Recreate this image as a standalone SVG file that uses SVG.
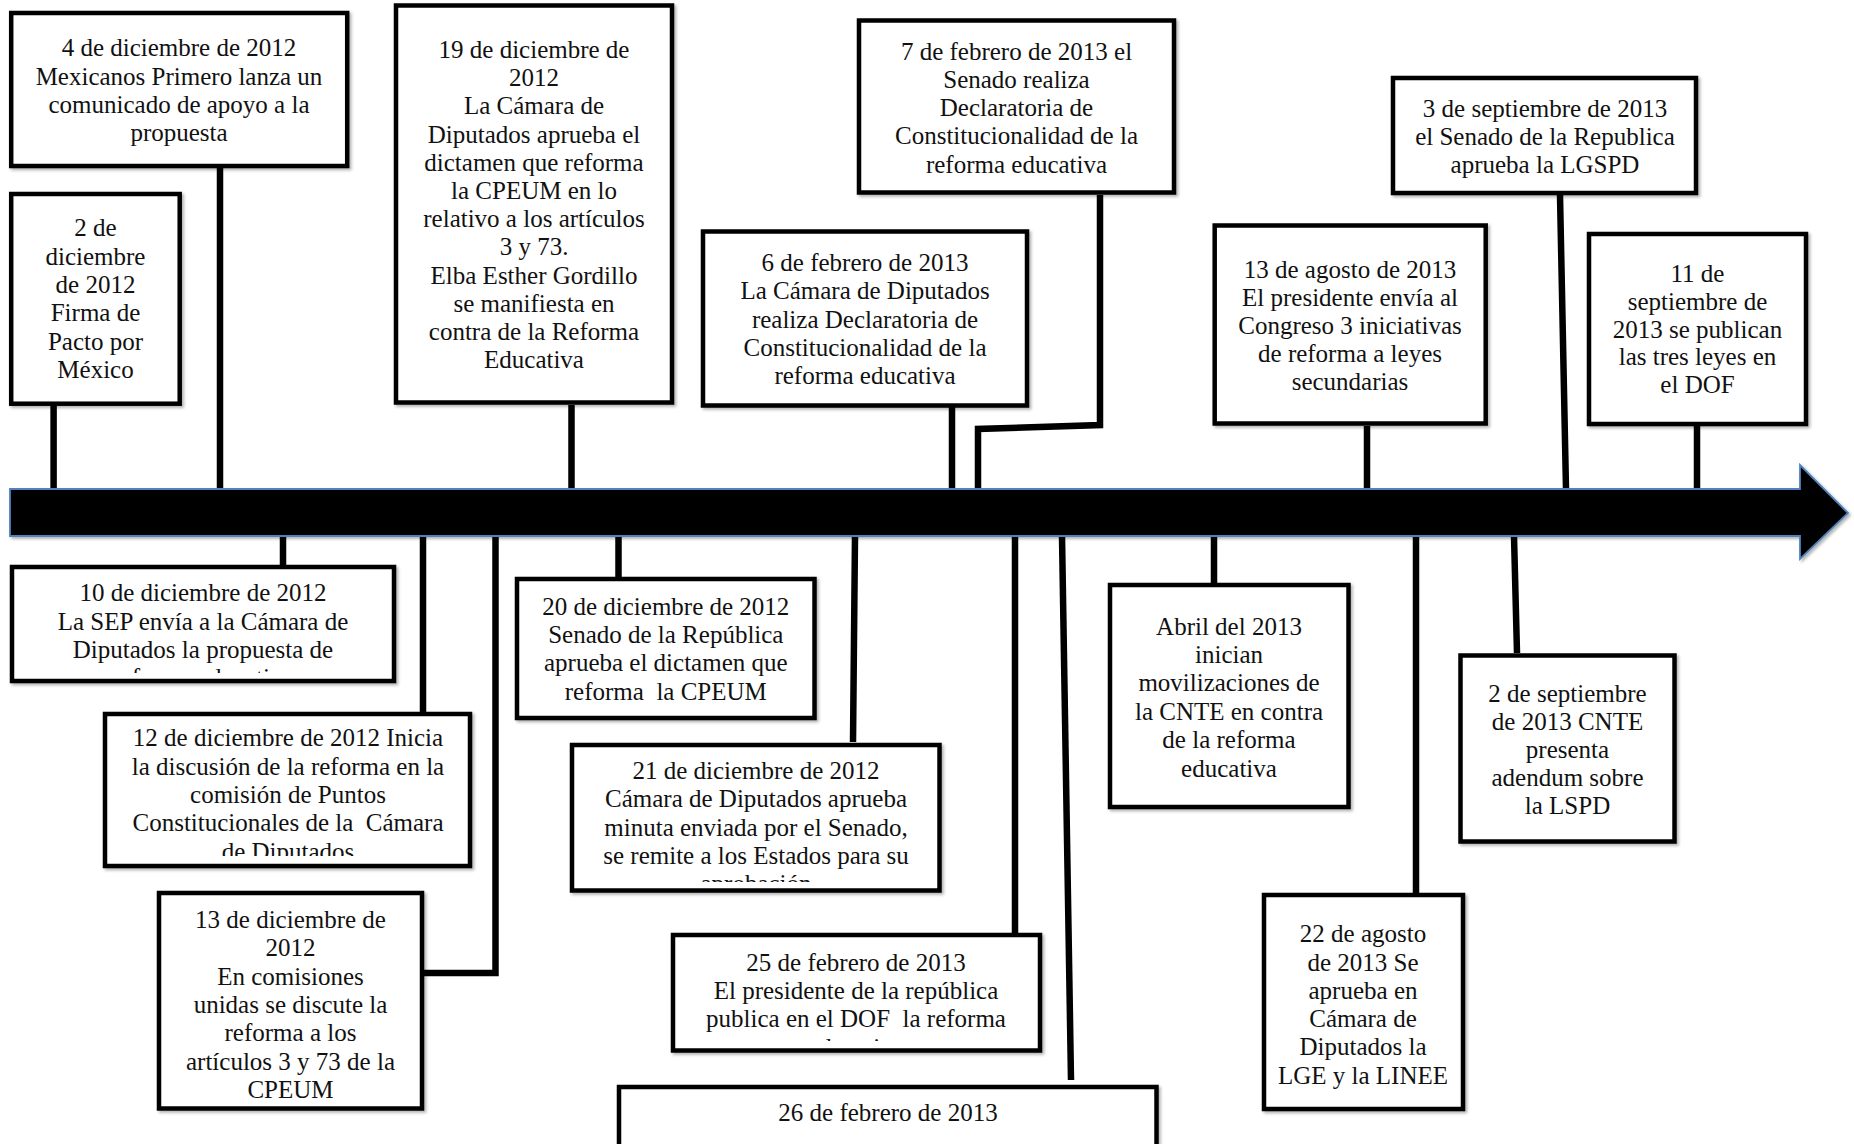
<svg xmlns="http://www.w3.org/2000/svg" width="1854" height="1144" viewBox="0 0 1854 1144">
<style>
.box{fill:#fff;stroke:#000;stroke-width:4.5;filter:url(#sh)}
.t{font-family:"Liberation Serif","Times New Roman",serif;font-size:25px;fill:#111;text-anchor:middle}
.stem{fill:none;stroke:#000;stroke-width:6.5;stroke-linejoin:miter}
</style>
<defs>
<filter id="sh" x="-5%" y="-5%" width="115%" height="115%"><feDropShadow dx="2" dy="2" stdDeviation="1.5" flood-color="#000" flood-opacity="0.3"/></filter>
<clipPath id="cI"><rect x="12" y="567" width="382" height="106"/></clipPath>
<clipPath id="cJ"><rect x="105" y="714" width="365" height="142"/></clipPath>
<clipPath id="cM"><rect x="572" y="745" width="367" height="137"/></clipPath>
<clipPath id="cN"><rect x="673" y="935" width="367" height="106"/></clipPath>
</defs>
<rect width="1854" height="1144" fill="#fff"/>
<g id="connectors">
<path class="stem" d="M53.6 404V489M220 167V489M571.5 405V489M952 407V489M1100 195V425L978 429V489M1367 426V489M1560 195L1566 489M1697 426V489"/>
<path class="stem" d="M283 536V566M423 536V712M495.5 536V973H424M618.5 536V577M855 536L853 742M1015 536V934M1062 536L1071 1080M1214 536V583M1416 536V893M1514 536L1517 653"/>
</g>
<g id="timeline">
<polygon points="10,489 1800,489 1800,465 1848,513 1800,559 1800,536 10,536" fill="#000" stroke="#4f81bd" stroke-width="1.8" filter="url(#sh)"/>
</g>
<g id="n1"><rect class="box" x="11.2" y="13" width="336" height="153"/>
<text class="t"><tspan x="179" y="56">4 de diciembre de 2012</tspan><tspan x="179" y="84.5">Mexicanos Primero lanza un</tspan><tspan x="179" y="113">comunicado de apoyo a la</tspan><tspan x="179" y="141">propuesta</tspan></text></g>
<g id="n2"><rect class="box" x="11.2" y="194" width="168.5" height="209.7"/>
<text class="t"><tspan x="95.5" y="236">2 de</tspan><tspan x="95.5" y="264.5">diciembre</tspan><tspan x="95.5" y="293">de 2012</tspan><tspan x="95.5" y="321">Firma de</tspan><tspan x="95.5" y="349.5">Pacto por</tspan><tspan x="95.5" y="378">México</tspan></text></g>
<g id="n3"><rect class="box" x="396" y="5.5" width="276" height="397"/>
<text class="t"><tspan x="534" y="58">19 de diciembre de</tspan><tspan x="534" y="86.2">2012</tspan><tspan x="534" y="114.4">La Cámara de</tspan><tspan x="534" y="142.6">Diputados aprueba el</tspan><tspan x="534" y="170.8">dictamen que reforma</tspan><tspan x="534" y="199">la CPEUM en lo</tspan><tspan x="534" y="227.2">relativo a los artículos</tspan><tspan x="534" y="255.4">3 y 73.</tspan><tspan x="534" y="283.6">Elba Esther Gordillo</tspan><tspan x="534" y="311.8">se manifiesta en</tspan><tspan x="534" y="340">contra de la Reforma</tspan><tspan x="534" y="368.2">Educativa</tspan></text></g>
<g id="n4"><rect class="box" x="859" y="20.5" width="315" height="172"/>
<text class="t"><tspan x="1016.5" y="59.7">7 de febrero de 2013 el</tspan><tspan x="1016.5" y="87.9">Senado realiza</tspan><tspan x="1016.5" y="116.1">Declaratoria de</tspan><tspan x="1016.5" y="144.3">Constitucionalidad de la</tspan><tspan x="1016.5" y="172.5">reforma educativa</tspan></text></g>
<g id="n5"><rect class="box" x="703" y="231.5" width="324" height="174"/>
<text class="t"><tspan x="865" y="271.3">6 de febrero de 2013</tspan><tspan x="865" y="299.4">La Cámara de Diputados</tspan><tspan x="865" y="327.5">realiza Declaratoria de</tspan><tspan x="865" y="355.6">Constitucionalidad de la</tspan><tspan x="865" y="383.7">reforma educativa</tspan></text></g>
<g id="n6"><rect class="box" x="1214.7" y="225.5" width="271" height="198"/>
<text class="t"><tspan x="1350" y="278">13 de agosto de 2013</tspan><tspan x="1350" y="306">El presidente envía al</tspan><tspan x="1350" y="334">Congreso 3 iniciativas</tspan><tspan x="1350" y="362">de reforma a leyes</tspan><tspan x="1350" y="390">secundarias</tspan></text></g>
<g id="n7"><rect class="box" x="1393" y="78" width="303" height="115"/>
<text class="t"><tspan x="1545" y="117.3">3 de septiembre de 2013</tspan><tspan x="1545" y="145.3">el Senado de la Republica</tspan><tspan x="1545" y="173">aprueba la LGSPD</tspan></text></g>
<g id="n8"><rect class="box" x="1589" y="234" width="217" height="190"/>
<text class="t"><tspan x="1697.5" y="282.3">11 de</tspan><tspan x="1697.5" y="310">septiembre de</tspan><tspan x="1697.5" y="337.7">2013 se publican</tspan><tspan x="1697.5" y="365.4">las tres leyes en</tspan><tspan x="1697.5" y="393.1">el DOF</tspan></text></g>
<g id="n9"><rect class="box" x="12" y="567" width="382" height="114"/>
<text class="t" clip-path="url(#cI)"><tspan x="203" y="601.3">10 de diciembre de 2012</tspan><tspan x="203" y="629.7">La SEP envía a la Cámara de</tspan><tspan x="203" y="658">Diputados la propuesta de</tspan><tspan x="203" y="686.3">reforma educativa</tspan></text></g>
<g id="n10"><rect class="box" x="105" y="714" width="365" height="152"/>
<text class="t" clip-path="url(#cJ)"><tspan x="288" y="746.3">12 de diciembre de 2012 Inicia</tspan><tspan x="288" y="775">la discusión de la reforma en la</tspan><tspan x="288" y="803">comisión de Puntos</tspan><tspan x="288" y="831.3">Constitucionales de la &#160;Cámara</tspan><tspan x="288" y="859.7">de Diputados</tspan></text></g>
<g id="n11"><rect class="box" x="159" y="893" width="263" height="215.5"/>
<text class="t"><tspan x="290.5" y="928">13 de diciembre de</tspan><tspan x="290.5" y="956.3">2012</tspan><tspan x="290.5" y="984.6">En comisiones</tspan><tspan x="290.5" y="1012.9">unidas se discute la</tspan><tspan x="290.5" y="1041.2">reforma a los</tspan><tspan x="290.5" y="1069.5">artículos 3 y 73 de la</tspan><tspan x="290.5" y="1097.8">CPEUM</tspan></text></g>
<g id="n12"><rect class="box" x="517" y="579" width="297.5" height="139"/>
<text class="t"><tspan x="665.8" y="614.7">20 de diciembre de 2012</tspan><tspan x="665.8" y="643">Senado de la República</tspan><tspan x="665.8" y="671.3">aprueba el dictamen que</tspan><tspan x="665.8" y="699.6">reforma &#160;la CPEUM</tspan></text></g>
<g id="n13"><rect class="box" x="572" y="745" width="367.5" height="145.5"/>
<text class="t" clip-path="url(#cM)"><tspan x="756" y="779">21 de diciembre de 2012</tspan><tspan x="756" y="807.3">Cámara de Diputados aprueba</tspan><tspan x="756" y="835.6">minuta enviada por el Senado,</tspan><tspan x="756" y="863.9">se remite a los Estados para su</tspan><tspan x="756" y="892.2">aprobación</tspan></text></g>
<g id="n14"><rect class="box" x="673" y="935" width="367" height="115.5"/>
<text class="t" clip-path="url(#cN)"><tspan x="856" y="970.7">25 de febrero de 2013</tspan><tspan x="856" y="999">El presidente de la república</tspan><tspan x="856" y="1027.3">publica en el DOF &#160;la reforma</tspan><tspan x="856" y="1055.6">educativa</tspan></text></g>
<g id="n15"><rect class="box" x="619" y="1087" width="537.5" height="80"/>
<text class="t"><tspan x="888" y="1120.7">26 de febrero de 2013</tspan></text></g>
<g id="n16"><rect class="box" x="1110" y="585" width="238.5" height="222"/>
<text class="t"><tspan x="1229" y="634.7">Abril del 2013</tspan><tspan x="1229" y="663">inician</tspan><tspan x="1229" y="691.4">movilizaciones de</tspan><tspan x="1229" y="719.8">la CNTE en contra</tspan><tspan x="1229" y="748.2">de la reforma</tspan><tspan x="1229" y="776.6">educativa</tspan></text></g>
<g id="n17"><rect class="box" x="1264" y="895" width="199" height="214"/>
<text class="t"><tspan x="1363" y="942">22 de agosto</tspan><tspan x="1363" y="970.5">de 2013 Se</tspan><tspan x="1363" y="998.8">aprueba en</tspan><tspan x="1363" y="1027">Cámara de</tspan><tspan x="1363" y="1055.4">Diputados la</tspan><tspan x="1363" y="1083.7">LGE y la LINEE</tspan></text></g>
<g id="n18"><rect class="box" x="1460.5" y="655.5" width="214" height="186"/>
<text class="t"><tspan x="1567.5" y="702">2 de septiembre</tspan><tspan x="1567.5" y="729.7">de 2013 CNTE</tspan><tspan x="1567.5" y="758">presenta</tspan><tspan x="1567.5" y="786.3">adendum sobre</tspan><tspan x="1567.5" y="813.7">la LSPD</tspan></text></g>
</svg>
